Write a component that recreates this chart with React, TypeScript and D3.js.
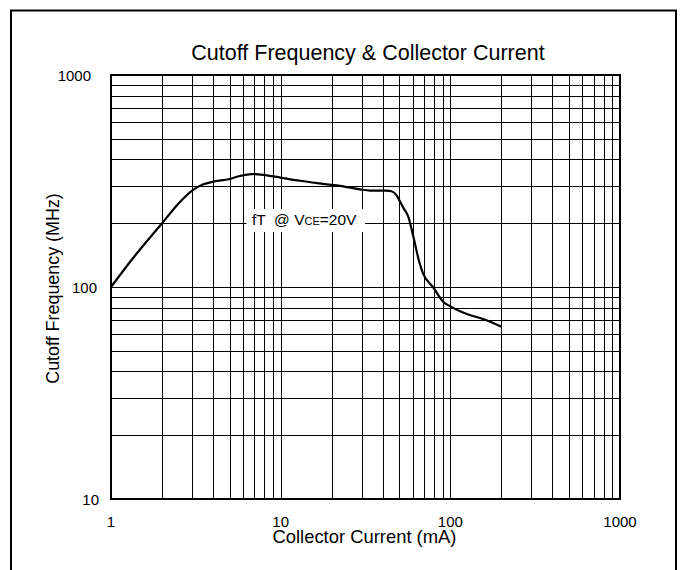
import React from "react";
import * as d3 from "d3";

// ---- data ----
const currentMA = [1, 1.35, 2, 2.55, 3.05, 3.5, 4, 5, 5.75, 6.75, 7.9, 10, 13, 18.7, 22.4, 29.3, 33.6, 42, 45, 48, 50, 53, 56.5, 60.5, 66, 69, 79, 91, 100, 125, 156, 200];
const cutoffMHz = [100, 137, 200, 252, 287, 305, 314, 323, 334, 341, 338, 328, 317, 305, 300, 289, 285, 285, 283, 272, 257, 235, 215, 173, 129, 116, 100, 85, 81, 74.6, 70.6, 65];
const xTicks = [1, 10, 100, 1000];
const yTicks = [10, 100, 1000];
const xDomain = [1, 1000];
const yDomain = [10, 1000];
const titleText = "Cutoff Frequency & Collector Current";
const xTitle = "Collector Current (mA)";
const yTitle = "Cutoff Frequency (MHz)";

// ---- layout ----
const W = 682, H = 570;
const L = 111, R = 620, T = 75, B = 499;
const FONT = "'Liberation Sans', Arial, Helvetica, sans-serif";
const NARROW = "'Liberation Sans Narrow', 'Arial Narrow', 'Liberation Sans', Arial, sans-serif";

function gridValues(lo: number, hi: number) {
  const out: number[] = [];
  for (let dec = lo; dec < hi; dec *= 10) {
    for (let m = 1; m <= 9; m++) {
      const v = dec * m;
      if (v > lo && v < hi) out.push(v);
    }
    if (dec * 10 < hi) out.push(dec * 10);
  }
  return Array.from(new Set(out)).filter((v) => v > lo && v < hi);
}

export default function App() {
  const x = d3.scaleLog().domain(xDomain).range([L, R]);
  const y = d3.scaleLog().domain(yDomain).range([B, T]);
  const px = (v: number) => Math.round(v) + 0.5;

  const xs = gridValues(xDomain[0], xDomain[1]);
  const ys = gridValues(yDomain[0], yDomain[1]);

  const pts: [number, number][] = currentMA.map((c, i) => [x(c), y(cutoffMHz[i])]);
  const path = d3.line().curve(d3.curveMonotoneX)(pts) || "";

  const yLabelRight: Record<number, number> = { 10: 99, 100: 97, 1000: 91 };

  return (
    <svg width={W} height={H} style={{ position: "absolute", left: 0, top: 0, background: "#fff" }}>
      <rect x={0} y={0} width={W} height={H} fill="#fff" />
      {/* outer frame */}
      <rect x={11} y={10.5} width={665} height={620} fill="none" stroke="#000" strokeWidth={2} />

      {/* grid */}
      {xs.map((v) => (
        <line key={"gx" + v} x1={px(x(v))} x2={px(x(v))} y1={T} y2={B} stroke="#000" strokeWidth={1} />
      ))}
      {ys.map((v) => (
        <line key={"gy" + v} x1={L} x2={R} y1={px(y(v))} y2={px(y(v))} stroke="#000" strokeWidth={1} />
      ))}

      {/* plot frame */}
      <rect x={L} y={T} width={R - L} height={B - T} fill="none" stroke="#000" strokeWidth={2} />

      {/* curve */}
      <path d={path} fill="none" stroke="#000" strokeWidth={2.2} strokeLinejoin="round" />

      {/* annotation */}
      <rect x={246.5} y={209} width={118.5} height={23} fill="#fff" />
      <text x={252} y={224.5} fontFamily={FONT} fontSize={15.5} fill="#000" style={{ whiteSpace: "pre" }}>
        <tspan>{"fT  @ V"}</tspan>
        <tspan fontSize={11}>CE</tspan>
        <tspan>=20V</tspan>
      </text>

      {/* tick labels */}
      {yTicks.map((v) => (
        <text key={"yt" + v} x={yLabelRight[v]} y={y(v) + 5.5} textAnchor="end" fontFamily={NARROW} fontSize={15} fill="#000">
          {String(v)}
        </text>
      ))}
      {xTicks.map((v) => (
        <text key={"xt" + v} x={x(v)} y={526.5} textAnchor="middle" fontFamily={NARROW} fontSize={15} fill="#000">
          {String(v)}
        </text>
      ))}

      {/* titles */}
      <text x={368} y={60} textAnchor="middle" fontFamily={FONT} fontSize={21.5} fill="#000">
        {titleText}
      </text>
      <text x={364.5} y={543} textAnchor="middle" fontFamily={FONT} fontSize={18.4} fill="#000">
        {xTitle}
      </text>
      <text
        transform={`translate(58.5, ${288.5}) rotate(-90)`}
        textAnchor="middle"
        fontFamily={FONT}
        fontSize={17.9}
        fill="#000"
      >
        {yTitle}
      </text>
    </svg>
  );
}
